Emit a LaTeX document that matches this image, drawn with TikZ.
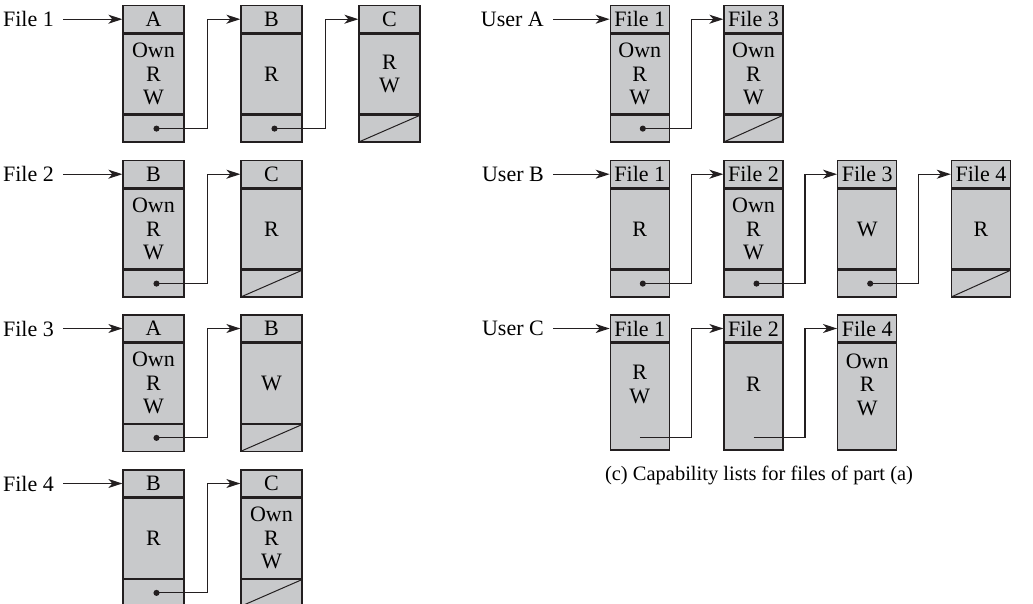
\documentclass[tikz,border=0pt]{standalone}
\usepackage{fontspec}
\setmainfont{Liberation Serif}
\usetikzlibrary{positioning,arrows.meta}

\definecolor{cellgray}{RGB}{200,201,203}
\definecolor{ink}{RGB}{35,31,32}

\tikzstyle{cell}  = [draw=ink,fill=cellgray,line width=1.3pt,inner sep=0pt,
                     minimum width=61pt,align=center]
\tikzstyle{head}  = [cell,minimum height=27pt]
\tikzstyle{body}  = [cell,minimum height=80pt]
\tikzstyle{ptr}   = [cell,minimum height=26.6pt]
\tikzstyle{nil}   = [ptr,path picture={\draw[ink,line width=1pt]
                     (path picture bounding box.south west) --
                     (path picture bounding box.north east);}]
\tikzstyle{cbody} = [cell,minimum height=106.6pt]
\tikzstyle{narrow}= [minimum width=59pt]
\tikzstyle{tag}   = [anchor=east,inner xsep=9pt,inner ysep=0pt]
\tikzstyle{feed}  = [ink,line width=1.15pt,-{Stealth[length=14pt,width=9pt,inset=4pt]}]
\tikzstyle{link}  = [feed,{Circle[length=6pt]}-{Stealth[length=14pt,width=9pt,inset=4pt]}]

\begin{document}
\begin{tikzpicture}[x=1pt,y=-1pt,font=\fontsize{22}{23.5}\selectfont]
  \useasboundingbox (0,0) rectangle (1033,604);

  % access control lists
  \node[tag] at (63,19.2) (file1) {File 1};
  \node[head] at (153.5,19.2) (f1a) {A};
  \node[body,below=0pt of f1a] (f1ab) {Own\\R\\W};
  \node[ptr,below=0pt of f1ab] (f1ap) {};
  \node[head] at (271.5,19.2) (f1b) {B};
  \node[body,below=0pt of f1b] (f1bb) {R};
  \node[ptr,below=0pt of f1bb] (f1bp) {};
  \node[head] at (389.5,19.2) (f1c) {C};
  \node[body,below=0pt of f1c] (f1cb) {R\\W};
  \node[nil,below=0pt of f1cb] (f1cp) {};

  \node[tag] at (63,174.2) (file2) {File 2};
  \node[head] at (153.5,174.2) (f2b) {B};
  \node[body,below=0pt of f2b] (f2bb) {Own\\R\\W};
  \node[ptr,below=0pt of f2bb] (f2bp) {};
  \node[head] at (271.5,174.2) (f2c) {C};
  \node[body,below=0pt of f2c] (f2cb) {R};
  \node[nil,below=0pt of f2cb] (f2cp) {};

  \node[tag] at (63,328.5) (file3) {File 3};
  \node[head] at (153.5,328.5) (f3a) {A};
  \node[body,below=0pt of f3a] (f3ab) {Own\\R\\W};
  \node[ptr,below=0pt of f3ab] (f3ap) {};
  \node[head] at (271.5,328.5) (f3b) {B};
  \node[body,below=0pt of f3b] (f3bb) {W};
  \node[nil,below=0pt of f3bb] (f3bp) {};

  \node[tag] at (63,483.5) (file4) {File 4};
  \node[head] at (153.5,483.5) (f4b) {B};
  \node[body,below=0pt of f4b] (f4bb) {R};
  \node[ptr,below=0pt of f4bb] (f4bp) {};
  \node[head] at (271.5,483.5) (f4c) {C};
  \node[body,below=0pt of f4c] (f4cb) {Own\\R\\W};
  \node[nil,below=0pt of f4cb] (f4cp) {};

  \draw[feed] (file1.east) -- (f1a.west);
  \draw[link] (f1ap.center) -| ([xshift=-33pt]f1b.west) -- (f1b.west);
  \draw[link] (f1bp.center) -| ([xshift=-33pt]f1c.west) -- (f1c.west);
  \draw[feed] (file2.east) -- (f2b.west);
  \draw[link] (f2bp.center) -| ([xshift=-33pt]f2c.west) -- (f2c.west);
  \draw[feed] (file3.east) -- (f3a.west);
  \draw[link] (f3ap.center) -| ([xshift=-33pt]f3b.west) -- (f3b.west);
  \draw[feed] (file4.east) -- (f4b.west);
  \draw[link] (f4bp.center) -| ([xshift=-33pt]f4c.west) -- (f4c.west);

  % capability lists
  \node[tag] at (553,19.2) (userA) {User A};
  \node[head,narrow] at (639.8,19.2) (uA1) {File 1};
  \node[body,narrow,below=0pt of uA1] (uA1b) {Own\\R\\W};
  \node[ptr,narrow,below=0pt of uA1b] (uA1p) {};
  \node[head,narrow] at (753.5,19.2) (uA3) {File 3};
  \node[body,narrow,below=0pt of uA3] (uA3b) {Own\\R\\W};
  \node[nil,narrow,below=0pt of uA3b] (uA3p) {};

  \node[tag] at (553,174.2) (userB) {User B};
  \node[head,narrow] at (639.8,174.2) (uB1) {File 1};
  \node[body,narrow,below=0pt of uB1] (uB1b) {R};
  \node[ptr,narrow,below=0pt of uB1b] (uB1p) {};
  \node[head,narrow] at (753.5,174.2) (uB2) {File 2};
  \node[body,narrow,below=0pt of uB2] (uB2b) {Own\\R\\W};
  \node[ptr,narrow,below=0pt of uB2b] (uB2p) {};
  \node[head,narrow] at (867.2,174.2) (uB3) {File 3};
  \node[body,narrow,below=0pt of uB3] (uB3b) {W};
  \node[ptr,narrow,below=0pt of uB3b] (uB3p) {};
  \node[head,narrow] at (980.9,174.2) (uB4) {File 4};
  \node[body,narrow,below=0pt of uB4] (uB4b) {R};
  \node[nil,narrow,below=0pt of uB4b] (uB4p) {};

  \node[tag] at (553,328.5) (userC) {User C};
  \node[head,narrow] at (639.8,328.5) (uC1) {File 1};
  \node[cbody,narrow,below=0pt of uC1,
        label={[align=center,yshift=12pt]center:R\\W}] (uC1b) {};
  \node[head,narrow] at (753.5,328.5) (uC2) {File 2};
  \node[cbody,narrow,below=0pt of uC2,
        label={[align=center,yshift=12pt]center:R}] (uC2b) {};
  \node[head,narrow] at (867.2,328.5) (uC4) {File 4};
  \node[cbody,narrow,below=0pt of uC4,
        label={[align=center,yshift=12pt]center:Own\\R\\W}] (uC4b) {};

  \draw[feed] (userA.east) -- (uA1.west);
  \draw[link] (uA1p.center) -| ([xshift=-32pt]uA3.west) -- (uA3.west);
  \draw[feed] (userB.east) -- (uB1.west);
  \draw[link] (uB1p.center) -| ([xshift=-32pt]uB2.west) -- (uB2.west);
  \draw[link] (uB2p.center) -| ([xshift=-32pt]uB3.west) -- (uB3.west);
  \draw[link] (uB3p.center) -| ([xshift=-32pt]uB4.west) -- (uB4.west);
  \draw[feed] (userC.east) -- (uC1.west);
  \draw[feed] ([yshift=13pt]uC1b.south) -| ([xshift=-32pt]uC2.west) -- (uC2.west);
  \draw[feed] ([yshift=13pt]uC2b.south) -| ([xshift=-32pt]uC4.west) -- (uC4.west);

  \node[font=\fontsize{20.5}{22}\selectfont] at (759,475) (caption)
       {(c) Capability lists for files of part (a)};
\end{tikzpicture}
\end{document}
